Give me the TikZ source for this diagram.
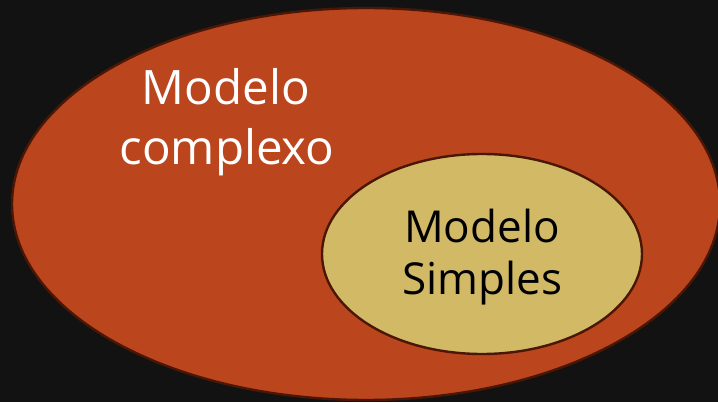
\documentclass[tikz,border=0pt]{standalone}
\usepackage{fontspec}
\setmainfont{Open Sans}
\definecolor{bg}{HTML}{121212}
\definecolor{outerfill}{HTML}{BB451D}
\definecolor{innerfill}{HTML}{D2B966}
\definecolor{edge}{HTML}{4A1606}
\begin{document}
\begin{tikzpicture}[x=1pt,y=1pt,
  ring/.style={draw=edge,line width=2.4pt},
  whitetxt/.style={anchor=base,inner sep=0pt,text=white,font=\fontsize{47.5}{60}\selectfont},
  blacktxt/.style={anchor=base,inner sep=0pt,text=black,font=\fontsize{44}{52}\selectfont}]
\useasboundingbox (0,0) rectangle (718,402);
\fill[bg] (0,0) rectangle (718,402);
\begin{scope}
\clip (0,0) rectangle (718,402);
\draw[ring,fill=outerfill] (366,198) ellipse [x radius=354, y radius=196];
\end{scope}
\draw[ring,fill=innerfill] (482,148) ellipse [x radius=160, y radius=100];
\node[whitetxt] (c1) at (226,297) {Modelo};
\node[whitetxt] (c2) at (227,237) {complexo};
\node[blacktxt] (s1) at (482,159) {Modelo};
\node[blacktxt] (s2) at (482,107) {Simples};
\end{tikzpicture}
\end{document}
